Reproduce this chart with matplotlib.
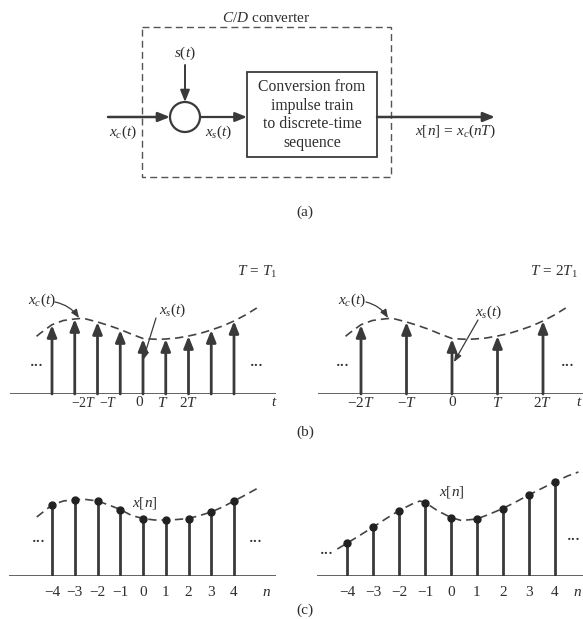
import numpy as np
import matplotlib
matplotlib.use("Agg")
import matplotlib.pyplot as plt
from matplotlib.patches import Rectangle, Circle

plt.rcParams["font.family"] = "Liberation Serif"
plt.rcParams["mathtext.fontset"] = "custom"
plt.rcParams["mathtext.rm"] = "Liberation Serif"
plt.rcParams["mathtext.it"] = "Liberation Serif:italic"

W, H = 583, 619
INK = "#3a3a3a"
TXT = "#2e2e2e"

# ---- data ----
n_idx = [-4, -3, -2, -1, 0, 1, 2, 3, 4]

# x_c(t) samples at t = n*T1 (panel b, T = T1)
xc_T1 = [0.69, 0.75, 0.72, 0.64, 0.55, 0.55, 0.58, 0.64, 0.73]
# dashed x_c(t) curve, t in units of T1
xc_curve_t = [-4.68, -4.5, -4.0, -3.5, -3.0, -2.78, -2.5, -2.0, -1.5, -1.0, -0.5,
              0.0, 0.5, 0.75, 1.0, 1.5, 2.0, 2.5, 3.0, 3.5, 4.0, 4.5, 5.0]
xc_curve_y = [0.577, 0.61, 0.693, 0.735, 0.75, 0.755, 0.75, 0.72, 0.685, 0.645, 0.598,
              0.555, 0.548, 0.547, 0.55, 0.56, 0.58, 0.605, 0.64, 0.68, 0.73, 0.79, 0.86]
b_left_ticks = ["\u22122$T$", "\u2212$T$", "0", "$T$", "2$T$"]
b_left_tick_pos = [-2.6, -1.52, -0.15, 0.88, 1.98]
b_left_tick_size = [10, 10, 11, 11, 11]
b_right_ticks = ["\u22122$T$", "\u2212$T$", "0", "$T$", "2$T$"]

# x[n] for T = T1 (panel c, left)
xn_left = [0.71, 0.76, 0.75, 0.66, 0.57, 0.56, 0.57, 0.64, 0.75]
xn_left_curve_n = [-4.67, -4.0, -3.5, -3.0, -2.5, -2.0, -1.5, -1.0, -0.5, 0.0, 0.5,
                   1.0, 1.5, 2.0, 2.5, 3.0, 3.5, 4.0, 4.5, 5.0]
xn_left_curve_y = [0.59, 0.71, 0.75, 0.765, 0.765, 0.75, 0.71, 0.665, 0.605, 0.575, 0.56,
                   0.56, 0.565, 0.575, 0.605, 0.64, 0.69, 0.75, 0.81, 0.873]

# x[n] for T = 2T1 (panel c, right)
xn_right = [0.33, 0.49, 0.655, 0.735, 0.585, 0.57, 0.675, 0.81, 0.94]
xn_right_curve_n = [-4.39, -4.0, -3.5, -3.0, -2.5, -2.0, -1.5, -1.2, -1.0, -0.5, 0.0,
                    0.4, 1.0, 1.5, 2.0, 2.5, 3.0, 3.5, 4.0, 4.5, 4.92]
xn_right_curve_y = [0.27, 0.33, 0.41, 0.49, 0.575, 0.655, 0.72, 0.75, 0.735, 0.65, 0.585,
                    0.555, 0.57, 0.62, 0.675, 0.74, 0.81, 0.875, 0.94, 1.0, 1.04]


fig = plt.figure(figsize=(W / 100, H / 100), dpi=100)

# overlay in pixel coordinates for the block diagram and free labels
ov = fig.add_axes([0, 0, 1, 1])
ov.set_xlim(0, W)
ov.set_ylim(H, 0)
ov.axis("off")


def arrow(ax, p0, p1, lw=1.8, rad=0.0, head="-|>,head_length=0.7,head_width=0.28"):
    ax.annotate("", xy=p1, xytext=p0,
                arrowprops=dict(arrowstyle=head, lw=lw, color=INK, shrinkA=0, shrinkB=0,
                                connectionstyle=f"arc3,rad={rad}"))


def dots(x, y):
    ov.text(x, y, "\u00b7\u00b7\u00b7", ha="center", va="center", fontsize=10,
            fontweight="bold", color=TXT)


# ---- (a) block diagram ----
ov.add_patch(Rectangle((142, 27), 249, 150, fill=False, ls=(0, (5, 3)), lw=1.0, ec="#555555"))
ov.text(266, 18, "$C/D$ converter", ha="center", va="center", fontsize=11, color=TXT)
ov.add_patch(Circle((185, 117), 15, fill=False, lw=1.6, ec=INK))
ov.add_patch(Rectangle((247, 72), 130, 85, fill=False, lw=1.3, ec=INK))
for k, line in enumerate(["Conversion from", "impulse train", "to discrete-time", "sequence"]):
    ov.text(312, 87 + 18.7 * k, line, ha="center", va="center", fontsize=11.3, color=TXT)
arrow(ov, (108, 117), (170, 117))
arrow(ov, (185, 65), (185, 102), lw=1.4)
arrow(ov, (200, 117), (247, 117), lw=1.6)
arrow(ov, (377, 117), (495, 117), lw=1.8)
ov.text(185, 53, "$s(t)$", ha="center", va="center", fontsize=11, color=TXT)
ov.text(123, 132, "$x_c(t)$", ha="center", va="center", fontsize=11, color=TXT)
ov.text(219, 132, "$x_s(t)$", ha="center", va="center", fontsize=11, color=TXT)
ov.text(455, 131, "$x[n]\\,=\\,x_c(nT)$", ha="center", va="center", fontsize=11, color=TXT)

ov.text(305, 212, "(a)", ha="center", va="center", fontsize=11, color=TXT)
ov.text(305, 432, "(b)", ha="center", va="center", fontsize=11, color=TXT)
ov.text(305, 610, "(c)", ha="center", va="center", fontsize=11, color=TXT)


def panel(x0, x1, base_y, zero_x, step, top=140):
    ax = fig.add_axes([x0 / W, (H - base_y) / H, (x1 - x0) / W, top / H])
    ax.set_xlim((x0 - zero_x) / step, (x1 - zero_x) / step)
    ax.set_ylim(0, top / 100)
    ax.axis("off")
    ax.axhline(0, color="#555555", lw=1.3)
    return ax


dash = (0, (5, 3))

# ---- (b) left: T = T1 ----
ax_bl = panel(10, 276, 394, 143, 22.75)
ax_bl.plot(xc_curve_t, xc_curve_y, ls=dash, color="#444444", lw=1.2)
for t, v in zip(n_idx, xc_T1):
    arrow(ax_bl, (t, 0), (t, v), lw=2.0)
for pos, lab, fs in zip(b_left_tick_pos, b_left_ticks, b_left_tick_size):
    ax_bl.text(pos, -0.09, lab, ha="center", va="center", fontsize=fs, color=TXT)
ax_bl.text(5.75, -0.09, "$t$", ha="center", va="center", fontsize=11, color=TXT)

# ---- (b) right: T = 2T1 ----
ax_br = panel(318, 583, 394, 452, 22.75)
ax_br.plot(xc_curve_t, xc_curve_y, ls=dash, color="#444444", lw=1.2)
for t, v in zip(n_idx[::2], xc_T1[::2]):
    arrow(ax_br, (t, 0), (t, v), lw=2.0)
for t, lab in zip(n_idx[::2], b_right_ticks):
    ax_br.text(t, -0.09, lab, ha="center", va="center", fontsize=11, color=TXT)
ax_br.text(5.6, -0.09, "$t$", ha="center", va="center", fontsize=11, color=TXT)

# labels for (b)
ov.text(257, 272, "$T\\,=\\,T_1$", ha="center", va="center", fontsize=11, color=TXT)
ov.text(554, 272, "$T\\,=\\,2T_1$", ha="center", va="center", fontsize=11, color=TXT)
ov.text(42, 300, "$x_c(t)$", ha="center", va="center", fontsize=11, color=TXT)
small = "-|>,head_length=0.5,head_width=0.2"
arrow(ov, (55, 302), (79, 318), lw=0.9, rad=-0.2, head=small)
ov.text(173, 310, "$x_s(t)$", ha="center", va="center", fontsize=11, color=TXT)
arrow(ov, (156, 318), (143, 360), lw=0.9, head=small)
ov.text(352, 300, "$x_c(t)$", ha="center", va="center", fontsize=11, color=TXT)
arrow(ov, (366, 302), (388, 318), lw=0.9, rad=-0.2, head=small)
ov.text(489, 312, "$x_s(t)$", ha="center", va="center", fontsize=11, color=TXT)
arrow(ov, (478, 320), (454, 362), lw=0.9, head=small)
for x in (37, 257, 343, 568):
    dots(x, 367)

# ---- (c) left: x[n], T = T1 ----
ax_cl = panel(9, 276, 576, 143, 22.75)
ax_cl.plot(xn_left_curve_n, xn_left_curve_y, ls=dash, color="#444444", lw=1.2)
ax_cl.vlines(n_idx, 0, xn_left, color=INK, lw=2.0)
ax_cl.plot(n_idx, xn_left, "o", ms=5, color="#222222")
for n in n_idx:
    lab = f"\u2212{abs(n)}" if n < 0 else str(n)
    ax_cl.text(n, -0.16, lab, ha="center", va="center", fontsize=11, color=TXT)
ax_cl.text(5.45, -0.16, "$n$", ha="center", va="center", fontsize=11, color=TXT)

# ---- (c) right: x[n], T = 2T1 ----
ax_cr = panel(317, 583, 576, 451, 25.9)
ax_cr.plot(xn_right_curve_n, xn_right_curve_y, ls=dash, color="#444444", lw=1.2)
ax_cr.vlines(n_idx, 0, xn_right, color=INK, lw=2.0)
ax_cr.plot(n_idx, xn_right, "o", ms=5, color="#222222")
for n in n_idx:
    lab = f"\u2212{abs(n)}" if n < 0 else str(n)
    ax_cr.text(n, -0.16, lab, ha="center", va="center", fontsize=11, color=TXT)
ax_cr.text(4.9, -0.16, "$n$", ha="center", va="center", fontsize=11, color=TXT)

ov.text(145, 503, "$x[n]$", ha="center", va="center", fontsize=11, color=TXT)
ov.text(452, 492, "$x[n]$", ha="center", va="center", fontsize=11, color=TXT)
for x, y in ((39, 542), (256, 542), (327, 555), (574, 541)):
    dots(x, y)

fig.savefig("out.png", dpi=100, facecolor="white")
